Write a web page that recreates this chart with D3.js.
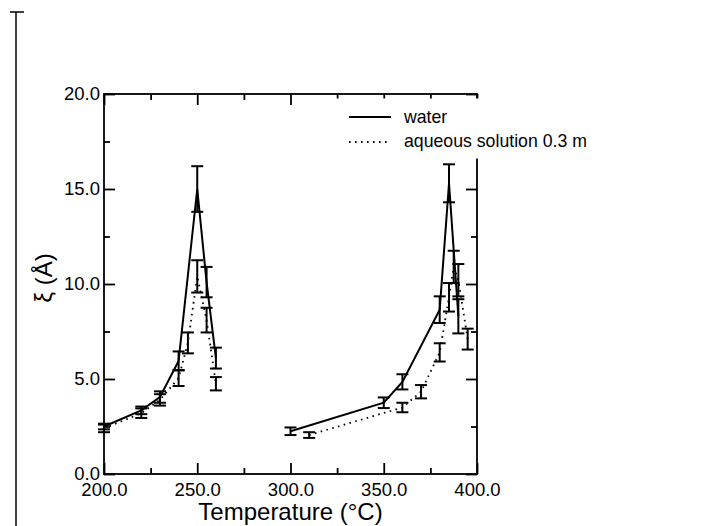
<!DOCTYPE html>
<html>
<head>
<meta charset="utf-8">
<script src="https://cdn.jsdelivr.net/npm/d3@7"></script>
<style>
  html, body { margin: 0; padding: 0; background: #fff; }
  svg { display: block; font-family: "Liberation Sans", Arial, Helvetica, sans-serif; }
</style>
</head>
<body>
<svg id="chart" width="710" height="526"></svg>
<script>
// ---- data ----
const xTicks = [200, 250, 300, 350, 400];
const xMinorTicks = [225, 275, 325, 375];
const yTicks = [0, 5, 10, 15, 20];
const yMinorTicks = [2.5, 7.5, 12.5, 17.5];

// water (solid line); null value = gap in the line
const waterT   = [200, 220, 230, 240, 250, 255, 260, null, 300, 350, 360, 380, 385, 390];
const waterXi  = [2.5, 3.35, 4.05, 5.95, 15.0, 10.1, 6.1, null, 2.25, 3.75, 4.85, 8.65, 15.3, 8.3];
const waterErr = [0.15, 0.2, 0.3, 0.5, 1.2, 0.8, 0.55, null, 0.2, 0.28, 0.4, 0.7, 1.0, 0.9];

// aqueous solution 0.3 m (dotted line)
const aqT   = [200, 220, 230, 240, 245, 250, 255, 260, null, 310, 360, 370, 380, 385, 387.5, 390, 395];
const aqXi  = [2.4, 3.2, 3.9, 5.05, 6.9, 10.4, 8.1, 4.75, null, 2.05, 3.5, 4.33, 6.4, 9.3, 10.9, 10.2, 7.1];
const aqErr = [0.2, 0.25, 0.3, 0.42, 0.55, 0.85, 0.65, 0.35, null, 0.15, 0.25, 0.35, 0.48, 0.75, 0.85, 0.85, 0.55];

const legendLabels = ["water", "aqueous solution 0.3 m"];
const xTitle = "Temperature (\u00B0C)";
const yTitle = "\u03BE (\u00C5)";

// ---- layout ----
const svg = d3.select("#chart");
const L = 104, R = 477, T = 94, B = 474;
const x = d3.scaleLinear().domain([200, 400]).range([L, R]);
const y = d3.scaleLinear().domain([0, 20]).range([B, T]);
const fmt = d3.format(".1f");

// stray vertical line on the far left
svg.append("line").attr("x1", 16).attr("x2", 16).attr("y1", 12).attr("y2", 526)
  .attr("stroke", "#000").attr("stroke-width", 1.5);
svg.append("line").attr("x1", 10).attr("x2", 24).attr("y1", 12).attr("y2", 12)
  .attr("stroke", "#000").attr("stroke-width", 1.5);

function styleAxis(g) {
  g.select(".domain").remove();
  g.selectAll("line").attr("stroke", "#000").attr("stroke-width", 1.8);
  g.selectAll("text").attr("fill", "#000").style("font-size", "18.5px")
    .style("font-family", '"Liberation Sans", Arial, sans-serif');
}

// frame
svg.append("rect").attr("x", L).attr("y", T).attr("width", R - L).attr("height", B - T)
  .attr("fill", "none").attr("stroke", "#000").attr("stroke-width", 1.8);

// bottom axis
const gB = svg.append("g").attr("transform", `translate(0,${B})`)
  .call(d3.axisBottom(x).tickValues(xTicks).tickSize(-11).tickPadding(9).tickFormat(fmt));
styleAxis(gB);
gB.selectAll("text").attr("dy", "0.71em");
const gBm = svg.append("g").attr("transform", `translate(0,${B})`)
  .call(d3.axisBottom(x).tickValues(xMinorTicks).tickSize(-6).tickFormat(""));
styleAxis(gBm);

// top axis
const gT = svg.append("g").attr("transform", `translate(0,${T})`)
  .call(d3.axisTop(x).tickValues(xTicks).tickSize(-11).tickFormat(""));
styleAxis(gT);
const gTm = svg.append("g").attr("transform", `translate(0,${T})`)
  .call(d3.axisTop(x).tickValues(xMinorTicks).tickSize(-6).tickFormat(""));
styleAxis(gTm);

// left axis
const gL = svg.append("g").attr("transform", `translate(${L},0)`)
  .call(d3.axisLeft(y).tickValues(yTicks).tickSize(-11).tickPadding(4).tickFormat(fmt));
styleAxis(gL);
const gLm = svg.append("g").attr("transform", `translate(${L},0)`)
  .call(d3.axisLeft(y).tickValues(yMinorTicks).tickSize(-6).tickFormat(""));
styleAxis(gLm);

// right axis
const gR = svg.append("g").attr("transform", `translate(${R},0)`)
  .call(d3.axisRight(y).tickValues(yTicks).tickSize(-11).tickFormat(""));
styleAxis(gR);
const gRm = svg.append("g").attr("transform", `translate(${R},0)`)
  .call(d3.axisRight(y).tickValues(yMinorTicks).tickSize(-6).tickFormat(""));
styleAxis(gRm);

// ---- series ----
function makeSeries(ts, vs, es) {
  return ts.map((t, i) => ({ t, v: vs[i], e: es[i] }));
}
const water = makeSeries(waterT, waterXi, waterErr);
const aq = makeSeries(aqT, aqXi, aqErr);

const line = d3.line().defined(d => d.t !== null && d.v !== null)
  .x(d => x(d.t)).y(d => y(d.v));

const plot = svg.append("g");

function drawErr(data) {
  const g = plot.append("g").attr("stroke", "#000").attr("stroke-width", 2);
  const pts = data.filter(d => d.t !== null);
  g.selectAll("line.v").data(pts).join("line")
    .attr("x1", d => x(d.t)).attr("x2", d => x(d.t))
    .attr("y1", d => y(d.v - d.e)).attr("y2", d => y(d.v + d.e));
  g.selectAll("line.top").data(pts).join("line")
    .attr("x1", d => x(d.t) - 6).attr("x2", d => x(d.t) + 6)
    .attr("y1", d => y(d.v + d.e)).attr("y2", d => y(d.v + d.e));
  g.selectAll("line.bot").data(pts).join("line")
    .attr("x1", d => x(d.t) - 6).attr("x2", d => x(d.t) + 6)
    .attr("y1", d => y(d.v - d.e)).attr("y2", d => y(d.v - d.e));
}

plot.append("path").datum(aq).attr("d", line).attr("fill", "none")
  .attr("stroke", "#000").attr("stroke-width", 1.8).attr("stroke-dasharray", "1.6,4.4");
plot.append("path").datum(water).attr("d", line).attr("fill", "none")
  .attr("stroke", "#000").attr("stroke-width", 2);
drawErr(aq);
drawErr(water);

// ---- legend (opaque box hides the frame behind it) ----
const lg = svg.append("g");
lg.append("rect").attr("x", 332).attr("y", 98.5).attr("width", 268).attr("height", 60)
  .attr("fill", "#fff");
lg.append("line").attr("x1", 349).attr("x2", 391).attr("y1", 117).attr("y2", 117)
  .attr("stroke", "#000").attr("stroke-width", 2);
lg.append("line").attr("x1", 349).attr("x2", 391).attr("y1", 142).attr("y2", 142)
  .attr("stroke", "#000").attr("stroke-width", 1.8).attr("stroke-dasharray", "1.6,4.4");
lg.selectAll("text").data(legendLabels).join("text")
  .attr("x", 404).attr("y", (d, i) => 123 + i * 24)
  .style("font-size", "17.7px").text(d => d);

// ---- axis titles ----
svg.append("text").attr("x", (L + R) / 2).attr("y", 520).attr("text-anchor", "middle")
  .style("font-size", "24px").text(xTitle);
svg.append("text").attr("transform", "translate(52,278) rotate(-90)")
  .attr("text-anchor", "middle").style("font-size", "24px").text(yTitle);
</script>
</body>
</html>
